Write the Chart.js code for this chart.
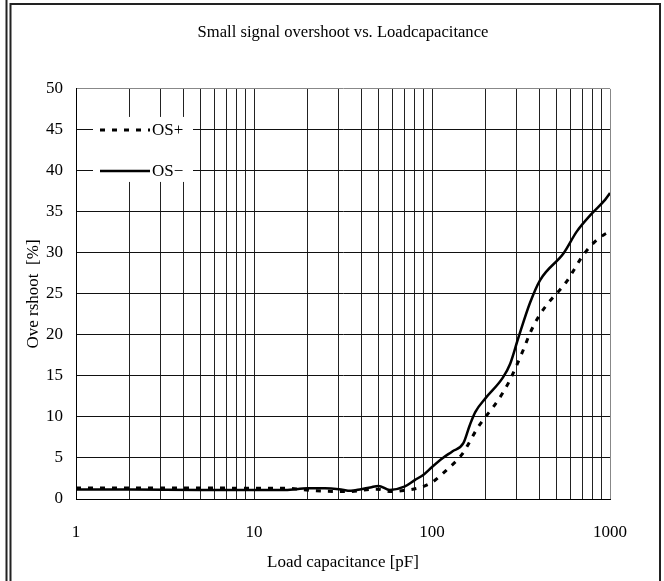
<!DOCTYPE html>
<html>
<head>
<meta charset="utf-8">
<script src="https://cdn.jsdelivr.net/npm/chart.js@4.4.1/dist/chart.umd.min.js"></script>
<style>
  html, body { margin: 0; padding: 0; background: #fff; }
  canvas { display: block; }
</style>
</head>
<body>
<canvas id="chart" width="664" height="581"></canvas>
<script>
// load capacitance [pF] and overshoot [%]
const capPlus = [1, 2, 5, 10, 15, 22, 33, 49, 59, 70, 86, 101, 123, 147, 182, 236, 268, 299, 326, 355, 396, 450, 570, 690, 790, 920, 1000];
const osPlus = [1.35, 1.35, 1.35, 1.3, 1.3, 1.0, 0.9, 1.2, 0.9, 1.05, 1.4, 2.1, 3.7, 5.4, 8.8, 12.1, 14.1, 16.3, 18.2, 20.2, 22.2, 23.9, 26.5, 29.4, 31.0, 32.2, 32.6];

const capMinus = [1, 2, 5, 10, 15, 20, 25, 30, 35, 40, 45, 50, 58, 70, 80, 90, 100, 115, 130, 150, 163, 175, 200, 250, 275, 305, 355, 405, 550, 650, 790, 940, 1000];
const osMinus = [1.15, 1.15, 1.1, 1.1, 1.1, 1.3, 1.3, 1.2, 1.0, 1.2, 1.4, 1.6, 1.1, 1.5, 2.3, 3.0, 3.9, 5.0, 5.8, 6.8, 9.0, 10.6, 12.3, 14.8, 16.5, 19.6, 23.9, 26.7, 30.0, 32.6, 34.8, 36.5, 37.3];

const seriesNames = ['OS+', 'OS\u2212'];
const xDecades = [1, 10, 100, 1000];
const yStep = 5;

const FONT = "'Liberation Serif', 'Times New Roman', serif";

const toPoints = (xs, ys) => xs.map((x, i) => ({ x: x, y: ys[i] }));

// outer frame of the figure
const framePlugin = {
    id: 'frame',
    beforeDraw(chart) {
        const ctx = chart.ctx;
        ctx.save();
        ctx.fillStyle = '#fff';
        ctx.fillRect(0, 0, chart.width, chart.height);
        ctx.strokeStyle = '#222';
        ctx.lineWidth = 2;
        ctx.beginPath();
        ctx.moveTo(6.5, 0);
        ctx.lineTo(6.5, chart.height);
        ctx.moveTo(10.5, chart.height);
        ctx.lineTo(10.5, 4);
        ctx.lineTo(660, 4);
        ctx.lineTo(660, chart.height);
        ctx.stroke();
        ctx.restore();
    }
};

// legend sits inside the plot, on the 45 and 40 grid lines
const legendPlugin = {
    id: 'insideLegend',
    afterDatasetsDraw(chart) {
        const ctx = chart.ctx;
        const xs = chart.scales.x;
        const ys = chart.scales.y;
        const left = xs.left + 17;
        const rows = [ys.getPixelForValue(45), ys.getPixelForValue(40)];
        ctx.save();
        ctx.fillStyle = '#fff';
        ctx.fillRect(left, rows[0] - 13, 100, rows[1] - rows[0] + 24);
        chart.data.datasets.forEach((ds, i) => {
            const y = rows[i];
            ctx.strokeStyle = ds.borderColor;
            ctx.lineWidth = ds.borderWidth;
            ctx.setLineDash(ds.borderDash || []);
            ctx.beginPath();
            ctx.moveTo(left + 7, y);
            ctx.lineTo(left + 57, y);
            ctx.stroke();
            ctx.setLineDash([]);
            ctx.fillStyle = '#000';
            ctx.font = '17px ' + FONT;
            ctx.textBaseline = 'middle';
            ctx.fillText(ds.label, left + 59, y + 1);
        });
        ctx.restore();
    }
};

new Chart(document.getElementById('chart'), {
    type: 'line',
    data: {
        datasets: [{
            label: seriesNames[0],
            data: toPoints(capPlus, osPlus),
            borderColor: '#000',
            borderWidth: 3,
            borderDash: [5, 7],
            pointRadius: 0,
            cubicInterpolationMode: 'monotone',
            fill: false
        }, {
            label: seriesNames[1],
            data: toPoints(capMinus, osMinus),
            borderColor: '#000',
            borderWidth: 2.5,
            pointRadius: 0,
            cubicInterpolationMode: 'monotone',
            fill: false
        }]
    },
    options: {
        responsive: false,
        animation: false,
        layout: { padding: { top: 4, left: 11, right: 54, bottom: 0 } },
        plugins: {
            legend: { display: false },
            tooltip: { enabled: false },
            title: {
                display: true,
                text: 'Small signal overshoot vs. Loadcapacitance',
                color: '#000',
                fullSize: false,
                font: { family: FONT, size: 16.6, weight: 'normal' },
                padding: { top: 19, bottom: 46 }
            }
        },
        scales: {
            x: {
                type: 'logarithmic',
                min: 1,
                max: 1000,
                afterBuildTicks: (scale) => {
                    const t = [];
                    for (let d = 1; d < 1000; d *= 10) {
                        for (let m = 1; m <= 9; m++) t.push({ value: m * d });
                    }
                    t.push({ value: 1000 });
                    scale.ticks = t;
                },
                afterFit: (scale) => { scale.height = 82; },
                ticks: {
                    autoSkip: false,
                    maxRotation: 0,
                    padding: 23,
                    color: '#000',
                    font: { family: FONT, size: 17 },
                    callback: (v) => xDecades.includes(v) ? String(v) : ''
                },
                grid: {
                    drawTicks: false,
                    color: (c) => c.tick && c.tick.value === 1000 ? '#888' : '#222'
                },
                border: { color: '#000', width: 1 },
                title: {
                    display: true,
                    text: 'Load capacitance [pF]',
                    color: '#000',
                    font: { family: FONT, size: 17 },
                    padding: { top: 0, bottom: 8 }
                }
            },
            y: {
                min: 0,
                max: 50,
                afterFit: (scale) => { scale.width = 65; },
                ticks: {
                    stepSize: yStep,
                    padding: 13,
                    color: '#000',
                    font: { family: FONT, size: 17 }
                },
                grid: {
                    drawTicks: false,
                    color: (c) => c.tick && c.tick.value === 50 ? '#888' : '#111'
                },
                border: { color: '#000', width: 1 },
                title: {
                    display: true,
                    text: 'Ove rshoot  [%]',
                    color: '#000',
                    font: { family: FONT, size: 17 },
                    padding: { top: 12, bottom: 0 }
                }
            }
        }
    },
    plugins: [framePlugin, legendPlugin]
});
</script>
</body>
</html>
